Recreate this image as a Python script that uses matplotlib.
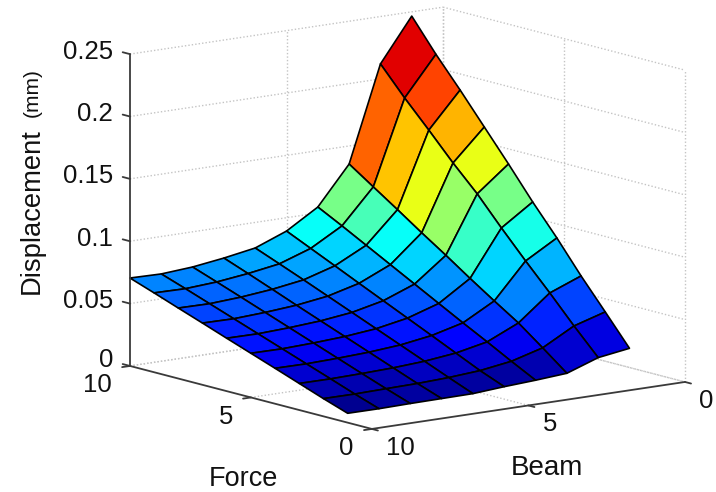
#!/usr/bin/env python3
# Beam displacement surface, MATLAB style 3D view
import numpy as np
import matplotlib
matplotlib.use('Agg')
import matplotlib.pyplot as plt
from matplotlib.colors import LinearSegmentedColormap
from mpl_toolkits.mplot3d import proj3d

plt.rcParams['font.family'] = ['Liberation Sans', 'DejaVu Sans']

beam = [1, 2, 3, 4, 5, 6, 7, 8, 9, 10]
force = [1, 2, 3, 4, 5, 6, 7, 8, 9, 10]

# rows are force 1..10, columns are beam 1..10
displacement = [
    [.0257, .0220, .0132, .0114, .0100, .0082, .0080, .0078, .0074, .0075],
    [.0498, .0423, .0285, .0215, .0178, .0160, .0150, .0146, .0141, .0142],
    [.0736, .0637, .0434, .0320, .0268, .0240, .0225, .0217, .0212, .0213],
    [.0990, .0843, .0560, .0422, .0358, .0320, .0300, .0289, .0282, .0284],
    [.1228, .1057, .0690, .0527, .0447, .0400, .0375, .0361, .0352, .0354],
    [.1482, .1280, .0825, .0632, .0536, .0480, .0450, .0433, .0422, .0424],
    [.1728, .1477, .0955, .0737, .0625, .0560, .0525, .0505, .0492, .0495],
    [.1974, .1690, .1090, .0842, .0715, .0640, .0602, .0577, .0562, .0565],
    [.2210, .1897, .1222, .0947, .0804, .0718, .0678, .0648, .0632, .0636],
    [.2466, .2120, .1355, .1048, .0893, .0795, .0752, .0718, .0700, .0705],
]

beam_ticks = [0, 5, 10]
force_ticks = [0, 5, 10]
z_ticks = [0, 0.05, 0.1, 0.15, 0.2, 0.25]
z_labels = ['0', '0.05', '0.1', '0.15', '0.2', '0.25']

# MATLAB's jet, mpl's one keeps the red too long
matlab_jet = LinearSegmentedColormap.from_list('matlab_jet', [
    (0.0, (0, 0, 0.5)), (0.125, (0, 0, 1)), (0.375, (0, 1, 1)),
    (0.625, (1, 1, 0)), (0.875, (1, 0, 0)), (1.0, (0.5, 0, 0))], N=64)

W, H = 716, 492
fig = plt.figure(figsize=(W / 100, H / 100), dpi=100)
side = 626.0
ax = fig.add_axes([86.0 / W, -47.5 / H, side / W, side / H], projection='3d',
                  computed_zorder=False)
ax.set_proj_type('ortho')
ax.set_box_aspect((393, 400, 318), zoom=1.0)
ax.view_init(elev=11.4, azim=-127.2)
ax.set_xlim(10, 0)
ax.set_ylim(0, 10)
ax.set_zlim(0, 0.25)
ax.set_axis_off()

grid = dict(color='#c4c4c4', linestyle=(0, (1, 1.5)), linewidth=1.0, zorder=1)
axis = dict(color='#3a3a3a', linewidth=1.3, zorder=3, solid_capstyle='round')


def label3d(x, y, z, s, ha):
    # plain 2D text placed at the projected data point
    x2, y2, _ = proj3d.proj_transform(x, y, z, ax.get_proj())
    ax.text2D(x2, y2, s, transform=ax.transData, ha=ha, va='center',
              fontsize=18.5, color='#111111')


# back walls and floor
for z in z_ticks:
    ax.plot([10, 0], [10, 10], [z, z], **grid)
    ax.plot([0, 0], [10, 0], [z, z], **grid)
for b in beam_ticks[:2]:
    ax.plot([b, b], [10, 10], [0, 0.25], **grid)
    ax.plot([b, b], [0, 10], [0, 0], **grid)
for f in force_ticks:
    ax.plot([0, 0], [f, f], [0, 0.25], **grid)
for f in force_ticks[1:]:
    ax.plot([10, 0], [f, f], [0, 0], **grid)

# surface, each cell coloured from its low force / low beam corner like MATLAB
X, Y = np.meshgrid(beam, force)
Z = np.array(displacement)
colors = matlab_jet(Z / Z.max())
ax.plot_surface(X, Y, Z, facecolors=colors, rstride=1, cstride=1, shade=False,
                edgecolor='black', linewidth=1.2, antialiased=True, zorder=2)

# axes and ticks
ax.plot([10, 10], [10, 10], [0, 0.25], **axis)
ax.plot([10, 0], [0, 0], [0, 0], **axis)
ax.plot([10, 10], [0, 10], [0, 0], **axis)
for z, lab in zip(z_ticks, z_labels):
    ax.plot([10, 10], [10, 10.3], [z, z], **axis)
    # the 0 sits a bit higher so it clears the force 10 label
    label3d(10, 10.7, z + 0.001 if z == 0 else z - 0.0016, lab, 'right')
for b in beam_ticks:
    ax.plot([b, b], [0, -0.25], [0, 0], **axis)
    label3d(b, -0.58, -0.0123, str(b), 'left')
for f in force_ticks:
    ax.plot([10, 10.25], [f, f], [0, 0], **axis)
    label3d(10.575, f, -0.0135, str(f), 'right')

fig.text(243 / W, 1 - 479.5 / H, 'Force', ha='center', va='center', fontsize=19.5, color='#111111')
fig.text(547 / W, 1 - 468 / H, 'Beam', ha='center', va='center', fontsize=20, color='#111111')
fig.text(32 / W, 1 - 211.5 / H, 'Displacement', rotation=90, ha='center', va='center',
         fontsize=19.7, color='#111111')
fig.text(32 / W, 1 - 93 / H, '(mm)', rotation=90, ha='center', va='center',
         fontsize=15, color='#111111')

fig.savefig('out.png', dpi=100)
